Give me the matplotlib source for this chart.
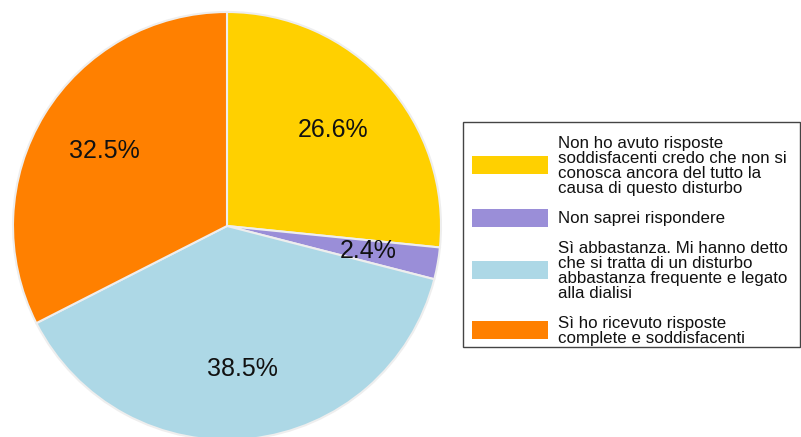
import matplotlib.pyplot as plt
from matplotlib.patches import Rectangle

plt.rcParams['font.family'] = ['Liberation Sans', 'DejaVu Sans']

# answers, clockwise from 12 o'clock
labels = [
    "Non ho avuto risposte\nsoddisfacenti credo che non si\nconosca ancora del tutto la\ncausa di questo disturbo",
    "Non saprei rispondere",
    "Sì abbastanza. Mi hanno detto\nche si tratta di un disturbo\nabbastanza frequente e legato\nalla dialisi",
    "Sì ho ricevuto risposte\ncomplete e soddisfacenti",
]
shares = [26.6, 2.4, 38.5, 32.5]
colors = ["#FFD000", "#9A8ED8", "#ADD8E6", "#FF8000"]

W, H = 801, 437
fig = plt.figure(figsize=(W / 100, H / 100), dpi=100)


def fx(x):
    return x / W


def fy(y):
    # pixel row from the top -> figure fraction
    return 1 - y / H


# pie centre (227, 226) px, radius 214 px
cx, cy, r = 227, 226, 214
ax = fig.add_axes([(cx - r) / W, (H - cy - r) / H, 2 * r / W, 2 * r / H])

wedges, texts, autotexts = ax.pie(
    shares, colors=colors, startangle=90, counterclock=False,
    autopct='%1.1f%%', pctdistance=0.67,
    wedgeprops=dict(edgecolor='#eeeeee', linewidth=1.5),
    textprops=dict(fontsize=18, color='#111111'))
ax.set_xlim(-1, 1)
ax.set_ylim(-1, 1)
for w in wedges:
    w.set_clip_on(False)

# legend drawn by hand: frame, colour swatches and wrapped labels
fig.add_artist(Rectangle((fx(463), fy(347)), fx(800 - 463), (347 - 122) / H,
                         transform=fig.transFigure, fill=False,
                         edgecolor='#444444', linewidth=1.0))

pitch = 15      # px between text lines
cap = 11        # cap height in px
base = 148      # baseline of the first legend line
line = 0
for lab, col in zip(labels, colors):
    n = lab.count("\n") + 1
    first = base + pitch * line
    last = first + pitch * (n - 1)
    mid = (first - cap + last) / 2
    fig.add_artist(Rectangle((fx(472), fy(mid + 9)), fx(76), 18 / H,
                             transform=fig.transFigure, facecolor=col,
                             edgecolor='none'))
    # multi-line text: 'baseline' pins the last line
    fig.text(fx(558), fy(last), lab, fontsize=12.2, color='#111111',
             va='baseline', ha='left', linespacing=1.0)
    line += n + 1

fig.savefig("out.png", dpi=100)
